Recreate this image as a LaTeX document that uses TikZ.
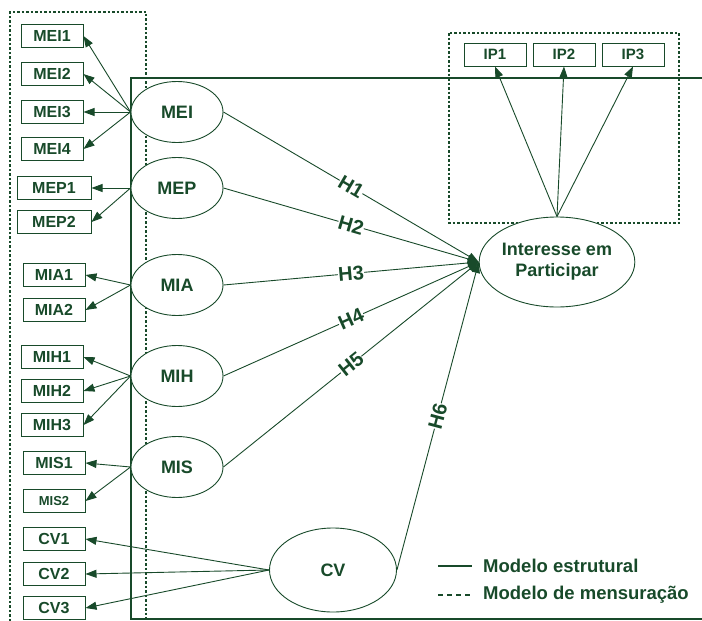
\documentclass[tikz,border=0pt]{standalone}
\usepackage{fontspec}
\setmainfont{Liberation Sans}
\usetikzlibrary{shapes.geometric, arrows.meta, positioning}
\definecolor{SemGreen}{RGB}{24, 74, 42}

\begin{document}
\begin{tikzpicture}[x=1pt, y=-1pt,
    every node/.style={text=SemGreen},
    indbox/.style={draw=SemGreen, line width=1pt, minimum width=62pt, minimum height=23pt,
                   inner sep=0pt, font=\fontsize{16}{18}\selectfont\bfseries},
    latent/.style={ellipse, draw=SemGreen, fill=white, line width=0.9pt, minimum width=92pt,
                   minimum height=61pt, inner sep=0pt, align=center,
                   font=\fontsize{18}{21}\selectfont\bfseries},
    load/.style={draw=SemGreen, line width=0.9pt, -{Triangle[length=11pt, width=8pt]}},
    hlabel/.style={sloped, fill=white, inner sep=0.3pt, font=\fontsize{20}{20}\selectfont\bfseries},
    dotframe/.style={draw=SemGreen, line width=1.5pt, dash pattern=on 2.5pt off 2pt},
    legtext/.style={anchor=west, inner sep=0pt, font=\fontsize{18.5}{21}\selectfont\bfseries}]
    \useasboundingbox (0,0) rectangle (702,621);

    % Structural model frame
    \draw[SemGreen, line width=2pt] (702,78) -- (131,78) -- (131,619) -- (702,619);
    % Measurement model frames
    \draw[dotframe] (10,621) -- (10,12) -- (146,12) -- (146,621);
    \draw[dotframe] (449,33) rectangle (679,223);

    % Latent constructs
    \node[latent] (MEI) at (177,112) {MEI};
    \node[latent] (MEP) at (177,188) {MEP};
    \node[latent] (MIA) at (177,285) {MIA};
    \node[latent] (MIH) at (177,376) {MIH};
    \node[latent] (MIS) at (177,467) {MIS};
    \node[latent, minimum width=127pt, minimum height=84pt] (CV) at (333,570) {CV};
    \node[latent, minimum width=138pt, minimum height=90pt] (IEP) at (557,262) {Interesse em\\Participar};

    % Indicators and loadings
    \foreach \lv/\ind/\x/\y in {MEI/MEI1/52/36, MEI/MEI2/52/74, MEI/MEI3/52/112, MEI/MEI4/52/149,
                                MIA/MIA1/54/275, MIA/MIA2/54/310,
                                MIH/MIH1/52/357, MIH/MIH2/52/391, MIH/MIH3/52/425,
                                MIS/MIS1/54/463, CV/CV1/54/539, CV/CV2/54/574, CV/CV3/54/608} {
        \node[indbox] (\ind) at (\x,\y) {\ind};
        \draw[load] (\lv.west) -- (\ind.east);
    }
    \foreach \ind/\y in {MEP1/188, MEP2/222} {
        \node[indbox, minimum width=74pt] (\ind) at (54,\y) {\ind};
        \draw[load] (MEP.west) -- (\ind.east);
    }
    \node[indbox, font=\fontsize{13}{15}\selectfont\bfseries] (MIS2) at (54,501) {MIS2};
    \draw[load] (MIS.west) -- (MIS2.east);
    \foreach \ind/\x in {IP1/495, IP2/564, IP3/633} {
        \node[indbox, font=\fontsize{15}{17}\selectfont\bfseries] (\ind) at (\x,54.5) {\ind};
        \draw[load] (IEP.north) -- (\ind.south);
    }

    % Hypotheses
    \foreach \lv/\h in {MEI/H1, MEP/H2, MIA/H3, MIH/H4, MIS/H5, CV/H6} {
        \draw[load] (\lv.east) -- node[hlabel] (lab\h) {\h} (IEP.west);
    }

    % Legend
    \node[legtext] (legS) at (483,566) {Modelo estrutural};
    \node[legtext] (legM) at (483,595) {Modelo de mensuração};
    \draw[SemGreen, line width=2pt] ([xshift=-45pt]legS.west) -- ([xshift=-11pt]legS.west);
    \draw[SemGreen, line width=1.8pt, dash pattern=on 5pt off 4pt]
        ([xshift=-45pt]legM.west) -- ([xshift=-11pt]legM.west);
\end{tikzpicture}
\end{document}
